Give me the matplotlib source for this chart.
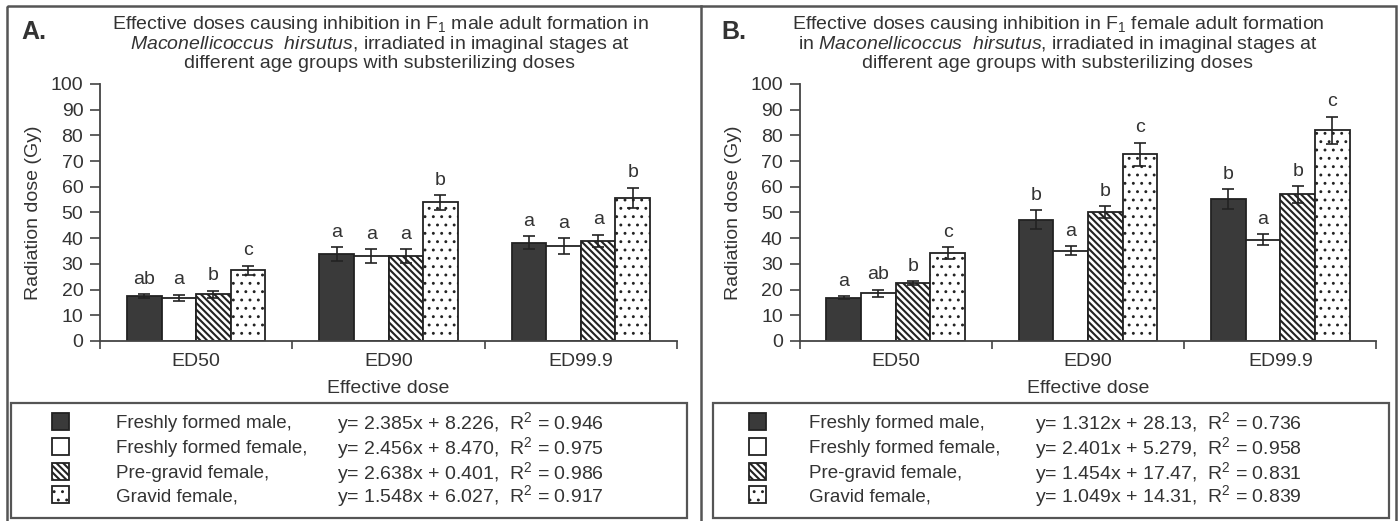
import numpy as np
import matplotlib
matplotlib.use('Agg')
from matplotlib import pyplot as plt
from matplotlib.patches import Rectangle

plt.rcParams['font.family'] = ['Liberation Sans', 'DejaVu Sans']
plt.rcParams['mathtext.fontset'] = 'custom'
plt.rcParams['mathtext.rm'] = 'Liberation Sans'
plt.rcParams['mathtext.it'] = 'Liberation Sans:italic'
plt.rcParams['hatch.linewidth'] = 1.6

# data
doses = ['ED50', 'ED90', 'ED99.9']
groups = ['Freshly formed male,', 'Freshly formed female,', 'Pre-gravid female,', 'Gravid female,']

male_a = [17.5, 33.8, 38.3]
female_a = [16.7, 33.0, 37.0]
pregravid_a = [18.2, 33.1, 39.0]
gravid_a = [27.5, 53.9, 55.8]
male_a_err = [0.7, 2.6, 2.5]
female_a_err = [1.3, 2.6, 3.0]
pregravid_a_err = [1.3, 2.6, 2.4]
gravid_a_err = [1.8, 2.9, 3.9]
letters_a = [['ab', 'a', 'a'], ['a', 'a', 'a'], ['b', 'a', 'a'], ['c', 'b', 'b']]
eq_a = ['y= 2.385x + 8.226,  R$^2$ = 0.946', 'y= 2.456x + 8.470,  R$^2$ = 0.975',
        'y= 2.638x + 0.401,  R$^2$ = 0.986', 'y= 1.548x + 6.027,  R$^2$ = 0.917']

male_b = [16.9, 47.1, 55.2]
female_b = [18.6, 35.1, 39.4]
pregravid_b = [22.5, 50.1, 57.0]
gravid_b = [34.3, 72.6, 82.0]
male_b_err = [0.6, 3.7, 3.8]
female_b_err = [1.3, 1.8, 2.1]
pregravid_b_err = [0.8, 2.4, 3.2]
gravid_b_err = [2.3, 4.5, 5.2]
letters_b = [['a', 'b', 'b'], ['ab', 'a', 'a'], ['b', 'b', 'b'], ['c', 'c', 'c']]
eq_b = ['y= 1.312x + 28.13,  R$^2$ = 0.736', 'y= 2.401x + 5.279,  R$^2$ = 0.958',
        'y= 1.454x + 17.47,  R$^2$ = 0.831', 'y= 1.049x + 14.31,  R$^2$ = 0.839']

title_a = ('Effective doses causing inhibition in F$_1$ male adult formation in\n'
           '$\\it{Maconellicoccus\\ \\ hirsutus}$, irradiated in imaginal stages at\n'
           'different age groups with substerilizing doses')
title_b = ('Effective doses causing inhibition in F$_1$ female adult formation\n'
           'in $\\it{Maconellicoccus\\ \\ hirsutus}$, irradiated in imaginal stages at\n'
           'different age groups with substerilizing doses')

dark = '#3a3a3a'
txt = '#333333'
styles = [dict(color=dark, hatch=None, hlw=1.6), dict(color='white', hatch=None, hlw=1.6),
          dict(color='white', hatch='\\\\\\\\\\', hlw=1.5), dict(color='white', hatch='..', hlw=0.9)]

W, H = 1399, 521
fig = plt.figure(figsize=(W / 100, H / 100), dpi=100)

# frame overlay in pixel units
bg = fig.add_axes([0, 0, 1, 1])
bg.set_xlim(0, W)
bg.set_ylim(H, 0)
bg.axis('off')
bg.add_patch(Rectangle((7, 6), 1389, 520, fill=False, ec='#555555', lw=1.8))
bg.plot([700.5, 700.5], [6, 521], color='#555555', lw=1.8)


def set_hlw(patches, lw):
    for p in patches:
        if hasattr(p, 'set_hatch_linewidth'):
            p.set_hatch_linewidth(lw)


def panel(left, data, errs, letters, title, tag, eqs, x0):
    ax = fig.add_axes([left, 0.3455, 0.4124, 0.4933])
    x = np.arange(len(doses))
    w = 0.18
    for i in range(4):
        pos = x + (i - 1.5) * w
        with plt.rc_context({'hatch.linewidth': styles[i]['hlw']}):
            bars = ax.bar(pos, data[i], w, color=styles[i]['color'], hatch=styles[i]['hatch'],
                          edgecolor='#222222', linewidth=1.3, zorder=2)
        set_hlw(bars, styles[i]['hlw'])
        ax.errorbar(pos, data[i], yerr=errs[i], fmt='none', ecolor='#222222',
                    elinewidth=1.2, capsize=4, capthick=1.2, zorder=3)
        for j in range(3):
            ax.text(pos[j], data[i][j] + errs[i][j] + 2.5, letters[i][j], ha='center',
                    va='bottom', fontsize=14, color=txt)
    ax.set_xlim(-0.5, 2.5)
    ax.set_ylim(0, 100)
    ax.set_yticks(np.arange(0, 101, 10))
    ax.set_xticks([-0.5, 0.5, 1.5, 2.5])
    ax.set_xticklabels([])
    ax.set_xticks(x, minor=True)
    ax.set_xticklabels(doses, minor=True)
    ax.tick_params(axis='x', which='minor', length=0, pad=9, labelsize=14, labelcolor=txt)
    ax.tick_params(axis='x', which='major', length=6, width=1.2, color='#444444')
    ax.tick_params(axis='y', length=7, width=1.2, pad=5, labelsize=14, labelcolor=txt, color='#444444')
    for s in ['top', 'right']:
        ax.spines[s].set_visible(False)
    for s in ['left', 'bottom']:
        ax.spines[s].set_color('#444444')
        ax.spines[s].set_linewidth(1.3)
    ax.set_ylabel('Radiation dose (Gy)', fontsize=14, color=txt)
    ax.yaxis.set_label_coords(-0.1, 0.5)
    ax.set_xlabel('Effective dose', fontsize=14, color=txt)
    ax.xaxis.set_label_coords(0.5, -0.15)

    bg.text(x0 + 21, 32, tag, fontsize=18, fontweight='bold', color=txt, ha='left', va='center')
    bg.text(x0 + title[1], 43, title[0], fontsize=14, color=txt, ha='center', va='center',
            linespacing=0.98)

    # legend box
    lx0, lx1 = (x0 + 11, x0 + 687) if x0 == 0 else (x0 + 13, x0 + 689)
    bg.add_patch(Rectangle((lx0, 403), lx1 - lx0, 115, fill=False, ec='#555555', lw=1.6))
    rows = [421.5, 446.5, 471, 494.5]
    for i in range(4):
        with plt.rc_context({'hatch.linewidth': styles[i]['hlw']}):
            r = Rectangle((x0 + 52 - (3 if x0 else 0), rows[i] - 8.5), 17, 17,
                          facecolor=styles[i]['color'], hatch=styles[i]['hatch'],
                          edgecolor='#222222', lw=1.3)
        set_hlw([r], styles[i]['hlw'])
        bg.add_patch(r)
        bg.text(x0 + (116 if x0 == 0 else 109), rows[i] + 2, groups[i], fontsize=13.5,
                color=txt, ha='left', va='center')
        bg.text(x0 + (337 if x0 == 0 else 335), rows[i] + 2, eqs[i], fontsize=14,
                color=txt, ha='left', va='center')
    return ax


panel(0.0715, [male_a, female_a, pregravid_a, gravid_a],
      [male_a_err, female_a_err, pregravid_a_err, gravid_a_err], letters_a,
      (title_a, 380), 'A.', eq_a, 0)
panel(0.5715, [male_b, female_b, pregravid_b, gravid_b],
      [male_b_err, female_b_err, pregravid_b_err, gravid_b_err], letters_b,
      (title_b, 358), 'B.', eq_b, 700)

fig.savefig('out.png', dpi=100)
